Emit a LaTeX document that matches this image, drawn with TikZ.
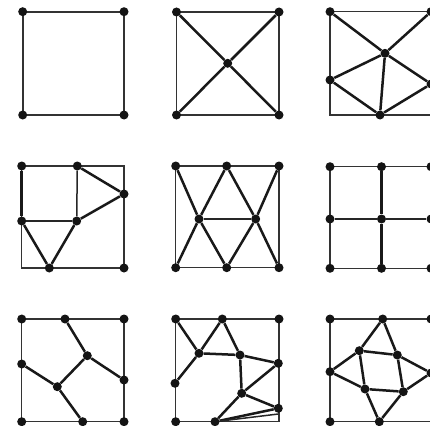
\documentclass[tikz,border=0pt]{standalone}
\begin{document}
\begin{tikzpicture}[x=1pt,y=-1pt,
  dot/.style={circle,fill=black!92,inner sep=0pt,minimum size=9pt},
  frame/.style={draw=black!80,line width=1.3pt},
  edge/.style={draw=black!90,line width=2.5pt},
  thin edge/.style={draw=black!85,line width=1.5pt}]
\useasboundingbox (0,0) rectangle (430,425);
% ---------- panel 1 ----------
\draw[frame,line width=1.7pt] (22.7,11.7) rectangle (124,115);
\node[dot] (a1) at (22.7,11.7) {};
\node[dot] (a2) at (124,11.7) {};
\node[dot] (a3) at (22.7,115) {};
\node[dot] (a4) at (124,115) {};
% ---------- panel 2 ----------
\draw[frame] (176.5,12) rectangle (279,115);
\node[dot] (b1) at (176.5,12) {};
\node[dot] (b2) at (279,12) {};
\node[dot] (b3) at (176.5,115) {};
\node[dot] (b4) at (279,115) {};
\node[dot] (b5) at (227.7,63.3) {};
\draw[edge] (b1) -- (b5) -- (b4);
\draw[edge] (b2) -- (b5) -- (b3);
% ---------- panel 3 ----------
\draw[frame] (330,11.7) rectangle (431,115);
\node[dot] (c1) at (330,11.7) {};
\node[dot] (c2) at (431,11.7) {};
\node[dot] (c3) at (385,53.3) {};
\node[dot] (c4) at (330,80) {};
\node[dot] (c5) at (380,115) {};
\node[dot] (c6) at (431,84) {};
\draw[edge] (c1) -- (c3) -- (c2);
\draw[edge] (c4) -- (c3) -- (c6);
\draw[edge] (c3) -- (c5);
\draw[edge] (c4) -- (c5) -- (c6);
% ---------- panel 4 ----------
\draw[frame] (21.7,166) rectangle (124,268);
\node[dot] (d1) at (21.7,166) {};
\node[dot] (d2) at (77.3,166) {};
\node[dot] (d3) at (124,194) {};
\node[dot] (d4) at (21.7,221) {};
\node[dot] (d5) at (76.7,221) {};
\node[dot] (d6) at (49.3,268) {};
\node[dot] (d7) at (124,268) {};
\draw[edge] (d2) -- (d3) -- (d5);
\draw[edge] (d1) -- (d4);
\draw[thin edge] (d2) -- (d5);
\draw[thin edge,line width=1.8pt] (d4) -- (d5);
\draw[edge] (d4) -- (d6) -- (d5);
% ---------- panel 5 ----------
\draw[frame] (175.7,166) rectangle (279,267.7);
\node[dot] (e1) at (175.7,166) {};
\node[dot] (e2) at (226.7,166) {};
\node[dot] (e3) at (279,166) {};
\node[dot] (e4) at (199,219) {};
\node[dot] (e5) at (255.7,219) {};
\node[dot] (e6) at (175.7,267.7) {};
\node[dot] (e7) at (226.7,267.7) {};
\node[dot] (e8) at (279,267.7) {};
\draw[edge] (e1) -- (e4) -- (e7);
\draw[edge] (e2) -- (e4) -- (e6);
\draw[edge] (e2) -- (e5) -- (e8);
\draw[edge] (e3) -- (e5) -- (e7);
\draw[thin edge] (e4) -- (e5);
% ---------- panel 6 ----------
\draw[frame] (330,166.7) rectangle (431,268.3);
\node[dot] (f1) at (330,166.7) {};
\node[dot] (f2) at (381.5,166.7) {};
\node[dot] (f3) at (431,166.7) {};
\node[dot] (f4) at (330,219) {};
\node[dot] (f5) at (381.5,219) {};
\node[dot] (f6) at (431,219) {};
\node[dot] (f7) at (330,268.3) {};
\node[dot] (f8) at (381.5,268.3) {};
\node[dot] (f9) at (431,268.3) {};
\draw[thin edge,line width=1.8pt] (f4) -- (f5) -- (f6);
\draw[edge] (f2) -- (f5) -- (f8);
% ---------- panel 7 ----------
\draw[frame] (21.7,319) rectangle (124,421.7);
\node[dot] (g1) at (21.7,319) {};
\node[dot] (g2) at (65,319) {};
\node[dot] (g3) at (124,319) {};
\node[dot] (g4) at (87.3,355.7) {};
\node[dot] (g5) at (21.7,364) {};
\node[dot] (g6) at (124,380) {};
\node[dot] (g7) at (57.3,386.7) {};
\node[dot] (g8) at (21.7,421.7) {};
\node[dot] (g9) at (82.7,421.7) {};
\node[dot] (g10) at (124,421.7) {};
\draw[edge] (g2) -- (g4) -- (g6);
\draw[edge] (g4) -- (g7);
\draw[edge] (g5) -- (g7) -- (g9);
% ---------- panel 8 ----------
\draw[frame] (175.7,319) rectangle (279,421.7);
\node[dot] (h1) at (175.7,319) {};
\node[dot] (h2) at (222.3,319) {};
\node[dot] (h3) at (279,319) {};
\node[dot] (h4) at (199,353.3) {};
\node[dot] (h5) at (240,355) {};
\node[dot] (h6) at (278.3,363.3) {};
\node[dot] (h7) at (175,383.3) {};
\node[dot] (h8) at (241.7,393.3) {};
\node[dot] (h9) at (278.3,408.3) {};
\node[dot] (h10) at (175.7,421.7) {};
\node[dot] (h11) at (215,421.7) {};
\coordinate (h12) at (278.3,414);
\draw[edge] (h1) -- (h4) -- (h2) -- (h5) -- (h4);
\draw[edge] (h7) -- (h4);
\draw[edge] (h5) -- (h6) -- (h8) -- (h5);
\draw[edge] (h8) -- (h9) -- (h11) -- (h8);
\draw[thin edge] (h11) -- (h12);
% ---------- panel 9 ----------
\draw[frame] (330,319) rectangle (431,421.7);
\node[dot] (i1) at (330,319) {};
\node[dot] (i2) at (382.7,319) {};
\node[dot] (i3) at (431,319) {};
\node[dot] (i4) at (359.3,350.7) {};
\node[dot] (i5) at (397.3,355) {};
\node[dot] (i6) at (330,371.7) {};
\node[dot] (i7) at (431,373) {};
\node[dot] (i8) at (365,389) {};
\node[dot] (i9) at (403.3,391.7) {};
\node[dot] (i10) at (330,421.7) {};
\node[dot] (i11) at (379.3,421.7) {};
\draw[edge] (i2) -- (i4) -- (i6) -- (i8) -- (i11) -- (i9) -- (i7) -- (i5) -- (i2);
\draw[edge] (i4) -- (i5) -- (i9) -- (i8) -- (i4);
\end{tikzpicture}
\end{document}
